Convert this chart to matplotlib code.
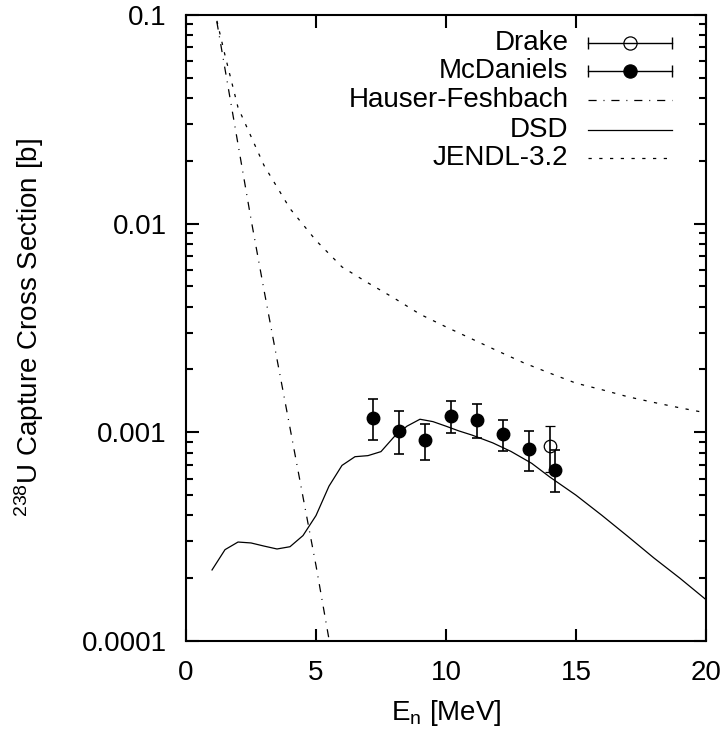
import numpy as np
import matplotlib
matplotlib.use("Agg")
import matplotlib.pyplot as plt
from matplotlib.ticker import FixedLocator, FixedFormatter, LogLocator, NullFormatter

plt.rcParams['font.family'] = ['Liberation Sans', 'DejaVu Sans']
plt.rcParams['mathtext.default'] = 'regular'

# ================================================
# data
# ================================================
# McDaniels (filled circles)
mcd_e = [7.2, 8.2, 9.2, 10.2, 11.2, 12.2, 13.2, 14.2]
mcd_y = [1.17e-3, 1.02e-3, 9.2e-4, 1.2e-3, 1.14e-3, 9.8e-4, 8.3e-4, 6.6e-4]
mcd_lo = [9.2e-4, 7.9e-4, 7.4e-4, 9.9e-4, 9.4e-4, 8.1e-4, 6.5e-4, 5.15e-4]
mcd_hi = [1.45e-3, 1.26e-3, 1.1e-3, 1.42e-3, 1.36e-3, 1.15e-3, 1.02e-3, 8.2e-4]

# Drake (open circle)
drake_e = [14.0]
drake_y = [8.6e-4]
drake_lo = [6.45e-4]
drake_hi = [1.07e-3]

# Hauser-Feshbach
hf_e = [1.0, 1.5, 2.0, 2.5, 3.0, 3.5, 4.0, 4.5, 5.0, 5.5, 6.0]
hf_y = [0.126, 0.055, 0.024, 0.0105, 4.8e-3, 2.24e-3, 1.05e-3, 4.9e-4, 2.3e-4, 1.02e-4, 5.0e-5]

# DSD
dsd_e = [1.0, 1.5, 2.0, 2.5, 3.0, 3.5, 4.0, 4.5, 5.0, 5.5, 6.0, 6.5, 7.0, 7.5,
         8.0, 8.5, 9.0, 9.5, 10.0, 10.5, 11.0, 11.8, 12.5, 13.3, 14.0, 15.0,
         16.0, 17.0, 18.0, 19.0, 20.0]
dsd_y = [2.19e-4, 2.74e-4, 2.98e-4, 2.95e-4, 2.85e-4, 2.76e-4, 2.83e-4, 3.2e-4,
         3.99e-4, 5.52e-4, 6.94e-4, 7.64e-4, 7.73e-4, 8.08e-4, 9.5e-4, 1.07e-3,
         1.155e-3, 1.125e-3, 1.07e-3, 1.015e-3, 9.7e-4, 8.9e-4, 8.1e-4, 7.1e-4,
         6.1e-4, 5.0e-4, 4.0e-4, 3.17e-4, 2.5e-4, 2.0e-4, 1.58e-4]

# JENDL-3.2
jendl_e = [1.0, 1.5, 2.0, 3.0, 4.0, 5.0, 6.0, 7.0, 8.0, 9.0, 10.0, 11.0, 12.0,
           13.0, 14.0, 15.0, 16.0, 17.0, 18.0, 19.0, 20.0]
jendl_y = [0.118, 0.064, 0.036, 0.019, 0.0118, 8.3e-3, 6.2e-3, 5.2e-3, 4.4e-3,
           3.68e-3, 3.2e-3, 2.8e-3, 2.45e-3, 2.15e-3, 1.92e-3, 1.72e-3, 1.6e-3,
           1.48e-3, 1.39e-3, 1.31e-3, 1.24e-3]

ytick_vals = [1e-4, 1e-3, 1e-2, 1e-1]
ytick_labels = ['0.0001', '0.001', '0.01', '0.1']

# ================================================
# plot
# ================================================
fs = 20
fig = plt.figure(figsize=(7.25, 7.34), dpi=100)
ax = fig.add_axes([0.2566, 0.1267, 0.717, 0.853])

lw = 0.9
hf_dash = (0, (6.5, 5.5, 0.8, 5.5))
jendl_dash = (0, (2.6, 6.0))

ax.plot(hf_e, hf_y, color='k', lw=lw, linestyle=hf_dash)
ax.plot(dsd_e, dsd_y, color='k', lw=lw)
ax.plot(jendl_e, jendl_y, color='k', lw=lw, linestyle=jendl_dash)

mcd_err = [np.array(mcd_y) - np.array(mcd_lo), np.array(mcd_hi) - np.array(mcd_y)]
ax.errorbar(mcd_e, mcd_y, yerr=mcd_err, fmt='o', color='k', ms=9,
            capsize=3.5, elinewidth=1.2, capthick=1.2)
drake_err = [np.array(drake_y) - np.array(drake_lo), np.array(drake_hi) - np.array(drake_y)]
ax.errorbar(drake_e, drake_y, yerr=drake_err, fmt='o', color='k', mfc='none',
            ms=9, mew=0.9, capsize=3.5, elinewidth=1.2, capthick=1.2)

ax.set_yscale('log')
ax.set_xlim(0, 20)
ax.set_ylim(1e-4, 0.1)
ax.set_xticks([0, 5, 10, 15, 20])
ax.yaxis.set_major_locator(FixedLocator(ytick_vals))
ax.yaxis.set_major_formatter(FixedFormatter(ytick_labels))
ax.yaxis.set_minor_locator(LogLocator(base=10, subs=np.arange(2, 10)))
ax.yaxis.set_minor_formatter(NullFormatter())

ax.tick_params(which='both', direction='in', top=True, right=True, labelsize=fs,
               width=1.5, colors='k')
ax.tick_params(which='major', length=9)
ax.tick_params(axis='y', which='major', pad=14)
ax.tick_params(axis='x', which='major', pad=14)
ax.tick_params(which='minor', length=5)
for s in ax.spines.values():
    s.set_linewidth(1.5)

ax.set_xlabel('E$_n$ [MeV]', fontsize=fs, labelpad=8)
ax.set_ylabel('$^{238}$U Capture Cross Section [b]', fontsize=fs)
ax.yaxis.set_label_coords(-0.27, 0.5)

# gnuplot style key, drawn by hand
tr = ax.transAxes
kx_text = 0.7355
kx0, kx1 = 0.773, 0.935
kx_mid = 0.5 * (kx0 + kx1)
ky = [0.955, 0.910, 0.864, 0.816, 0.772]
names = ['Drake', 'McDaniels', 'Hauser-Feshbach', 'DSD', 'JENDL-3.2']
for yy, nm in zip(ky, names):
    ax.text(kx_text, yy, nm, transform=tr, ha='right', va='center', fontsize=fs)

for yy, face in [(ky[0], 'none'), (ky[1], 'k')]:
    ax.plot([kx0, kx1], [yy, yy], color='k', lw=1.0, transform=tr)
    ax.plot([kx0, kx1], [yy, yy], ls='none', marker='|', ms=9, mew=1.0,
            color='k', transform=tr)
    ax.plot([kx_mid], [yy], ls='none', marker='o', ms=9.5, mfc=face, mec='k',
            mew=0.9, transform=tr)
ax.plot([kx0, kx1], [ky[2]] * 2, color='k', lw=lw, linestyle=hf_dash, transform=tr)
ax.plot([kx0, kx1], [ky[3]] * 2, color='k', lw=lw, transform=tr)
ax.plot([kx0, kx1], [ky[4]] * 2, color='k', lw=lw, linestyle=jendl_dash, transform=tr)

fig.savefig('out.png', dpi=100)
